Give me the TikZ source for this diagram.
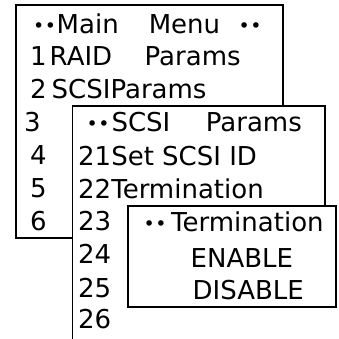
\documentclass[tikz,border=0pt]{standalone}
\usepackage{fontspec}
\setmainfont{DejaVu Sans}
\newcommand{\mdots}{\raisebox{0.6pt}{\fontsize{19}{22}\selectfont •\kern0.5pt•}}

\begin{document}
\begin{tikzpicture}[x=1pt,y=-1pt,
    box/.style={draw=black,fill=white,line width=1.4pt},
    txt/.style={anchor=base west,inner sep=0pt,font=\fontsize{26}{30}\selectfont}]
  \useasboundingbox (0,0) rectangle (339,338);
  % main menu
  \draw[box] (16,5) rectangle (283,238);
  \node[txt] (mtitle) at (32.9,33) {\mdots\hspace{0.7pt}Main\hspace{30pt}Menu\hspace{18.5pt}\mdots};
  \node[txt] (m1) at (30,65.5) {1\hspace{3pt}RAID\hspace{32.5pt}Params};
  \node[txt] (m2) at (30,98.5) {2\hspace{5pt}SCSIParams};
  \node[txt] (m3) at (24,131.5) {3};
  \node[txt] (m4) at (30,164.5) {4};
  \node[txt] (m5) at (30,197) {5};
  \node[txt] (m6) at (30,230) {6};
  % scsi params
  \fill[white] (72.7,106) rectangle (325,338);
  \draw[box,fill=none] (72.7,340) -- (72.7,106) -- (325,106) -- (325,206);
  \node[txt] (stitle) at (86.4,131.5) {\mdots\hspace{2pt}SCSI\hspace{35.5pt}Params};
  \node[txt] (s21) at (78,165) {21Set SCSI ID};
  \node[txt] (s22) at (78,198) {22Termination};
  \node[txt] (s23) at (78,230) {23};
  \node[txt] (s24) at (78,263) {24};
  \node[txt] (s25) at (78,297) {25};
  \node[txt] (s26) at (78,328) {26};
  % termination
  \draw[box] (128,206) rectangle (336,307);
  \node[txt] (ttitle) at (143.4,231) {\mdots\hspace{4.7pt}Termination};
  \node[txt] (ten) at (190.5,267) {ENABLE};
  \node[txt] (tdis) at (192.5,299) {DISABLE};
\end{tikzpicture}
\end{document}
